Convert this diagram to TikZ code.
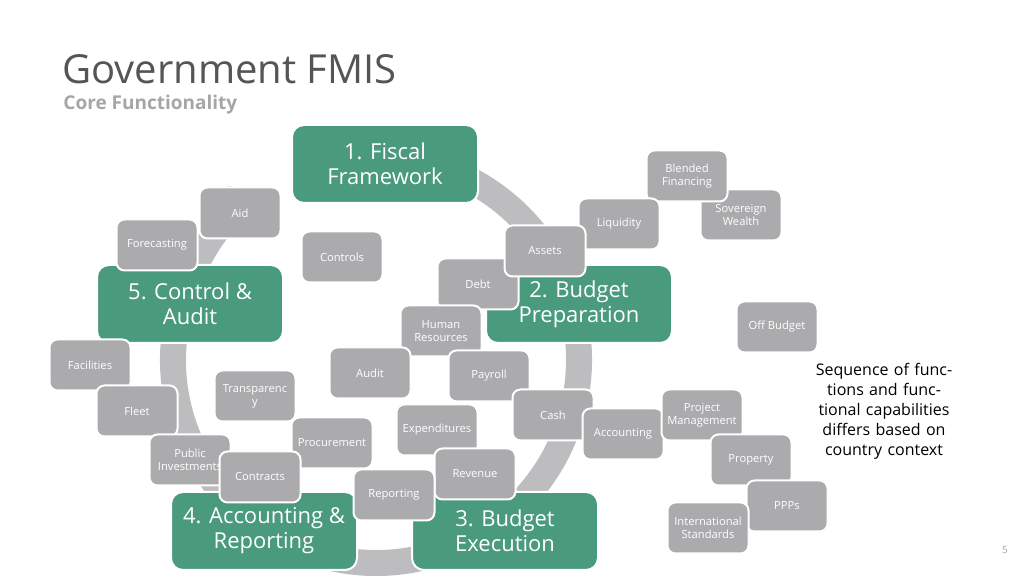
\documentclass[tikz,border=0pt]{standalone}
\usepackage{fontspec}
\setmainfont{Open Sans}
\usetikzlibrary{arrows.meta}
\definecolor{grn}{HTML}{4A9A7E}
\definecolor{gbx}{HTML}{ABABAD}
\definecolor{ring}{HTML}{BDBDBF}
\definecolor{ttl}{HTML}{555555}
\definecolor{sub}{HTML}{A6A6A6}
\tikzset{
 gbox/.style={draw=white,line width=1pt,fill=gbx,rounded corners=4pt,minimum width=40.5pt,minimum height=25.5pt,text=white,font=\fontsize{5.6}{6.4}\selectfont,align=center,inner sep=1pt},
 gstage/.style={draw=white,line width=1pt,fill=grn,rounded corners=6pt,minimum width=93pt,minimum height=39pt,text=white,font=\fontsize{11}{12.5}\selectfont,align=center}
}
\begin{document}
\begin{tikzpicture}[x=0.5pt,y=-0.5pt]
\useasboundingbox (0,0) rectangle (1024,576);
\fill[white] (0,0) rectangle (1024,576);
\node[anchor=base west,text=ttl,font=\fontsize{20}{22}\selectfont,inner sep=0] (title) at (62,84) {Government FMIS};
\node[anchor=base west,text=sub,font=\fontsize{9.5}{11}\selectfont\bfseries,inner sep=0] (subt) at (63,110) {Core Functionality};
\draw[ring,line width=13pt,-{Triangle[width=24pt,length=13pt]}] (376,360) ++(-80:203) arc[start angle=-80,end angle=236,radius=203];
\node[gstage] (s1) at (385,164) {1. Fiscal\\Framework};
\node[gstage] (s2) at (579,304) {2. Budget\\Preparation};
\node[gstage] (s3) at (505,531) {3. Budget\\Execution};
\node[gstage] (s4) at (264,531) {4. Accounting \&\\Reporting};
\node[gstage] (s5) at (190,304) {5. Control \&\\Audit};
\node[gbox] (aid) at (240,213) {Aid};
\node[gbox] (fc) at (157,245) {Forecasting};
\node[gbox] (ctl) at (342,257) {Controls};
\node[gbox] (sw) at (741,215) {Sovereign\\Wealth};
\node[gbox] (bf) at (687,176) {Blended\\Financing};
\node[gbox] (liq) at (619,224) {Liquidity};
\node[gbox] (debt) at (478,284) {Debt};
\node[gbox] (ast) at (545,251) {Assets};
\node[gbox] (hr) at (441,331) {Human\\Resources};
\node[gbox] (pay) at (489,376) {Payroll};
\node[gbox] (aud) at (370,373) {Audit};
\node[gbox] (ob) at (777,327) {Off Budget};
\node[gbox] (fac) at (90,365) {Facilities};
\node[gbox] (flt) at (137,411) {Fleet};
\node[gbox] (tr) at (255,396) {Transparenc\\y};
\node[gbox] (proc) at (332,443) {Procurement};
\node[gbox] (exp) at (437,430) {Expenditures};
\node[gbox] (cash) at (553,415) {Cash};
\node[gbox] (acc) at (623,434) {Accounting};
\node[gbox] (pm) at (702,415) {Project\\Management};
\node[gbox] (prop) at (751,460) {Property};
\node[gbox] (ppp) at (787,506) {PPPs};
\node[gbox] (is) at (708,528) {International\\Standards};
\node[gbox] (pi) at (190,460) {Public\\Investments};
\node[gbox] (con) at (260,477) {Contracts};
\node[gbox] (rev) at (475,474) {Revenue};
\node[gbox] (rep) at (394,495) {Reporting};
\node[align=center,font=\fontsize{8}{10}\selectfont,text width=70pt] (note) at (884,411) {Sequence of functions and functional capabilities differs based on country context};
\node[text=sub,font=\fontsize{5}{6}\selectfont] (pg) at (1005,550) {5};
\end{tikzpicture}
\end{document}
